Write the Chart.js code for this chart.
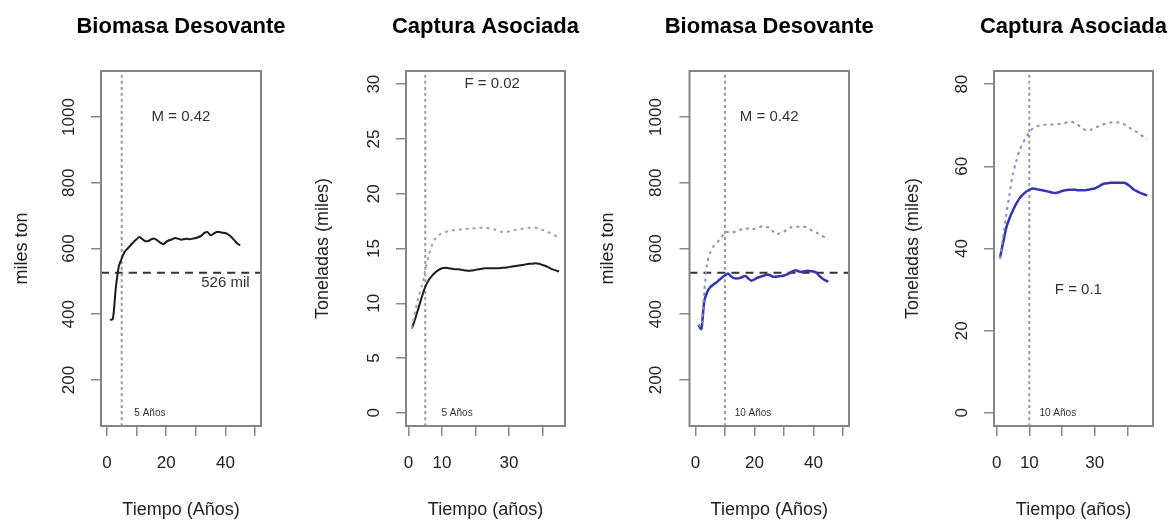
<!DOCTYPE html>
<html>
<head>
<meta charset="utf-8">
<script src="https://cdn.jsdelivr.net/npm/chart.js@4.4.1/dist/chart.umd.min.js"></script>
<style>
  html, body { margin: 0; padding: 0; background: #fff; }
  #wrap { position: relative; width: 1173px; height: 521px; }
  #wrap canvas { position: absolute; left: 0; top: 0; }
</style>
</head>
<body>
<div id="wrap">
  <canvas id="c1" width="1173" height="521"></canvas>
  <canvas id="c2" width="1173" height="521"></canvas>
  <canvas id="c3" width="1173" height="521"></canvas>
  <canvas id="c4" width="1173" height="521"></canvas>
</div>
<script>
const FONT = '"Liberation Sans", Arial, Helvetica, sans-serif';

// Años de proyección
const years = [1, 2, 3, 4, 5, 6, 7, 8, 9, 10, 11, 12, 13, 14, 15, 16, 17, 18, 19, 20,
  21, 22, 23, 24, 25, 26, 27, 28, 29, 30, 31, 32, 33, 34, 35, 36, 37, 38, 39, 40,
  41, 42, 43, 44, 45, 46];

// Panel 1: biomasa desovante, veda de 5 años (miles ton)
const biomasa5 = [383, 385, 480, 545, 570, 590, 600, 610, 620, 628, 635, 628, 622, 623, 628,
  630, 625, 618, 613, 620, 625, 628, 632, 630, 627, 628, 630, 628, 630, 632, 635, 640, 648,
  650, 640, 645, 650, 650, 648, 647, 642, 635, 625, 615, 610];

// Panel 2: captura asociada, veda de 5 años (miles t)
const captura5 = [7.7, 8.6, 9.6, 10.6, 11.5, 12.1, 12.5, 12.8, 13.05, 13.2, 13.25, 13.2, 13.15,
  13.1, 13.1, 13.05, 13.0, 12.95, 13.0, 13.05, 13.1, 13.15, 13.2, 13.2, 13.2, 13.2, 13.2, 13.25,
  13.25, 13.3, 13.35, 13.4, 13.45, 13.5, 13.55, 13.6, 13.6, 13.65, 13.6, 13.5, 13.4, 13.25,
  13.1, 13.0, 12.9];
const captura5Ref = [7.7, 9.3, 10.6, 11.6, 13.0, 14.3, 15.3, 15.9, 16.2, 16.4, 16.5, 16.6, 16.65,
  16.7, 16.7, 16.75, 16.8, 16.8, 16.85, 16.85, 16.9, 16.9, 16.9, 16.85, 16.8, 16.7, 16.6, 16.5,
  16.5, 16.55, 16.6, 16.7, 16.75, 16.8, 16.85, 16.9, 16.9, 16.9, 16.8, 16.7, 16.6, 16.45, 16.3,
  16.15, 16.05];

// Panel 3: biomasa desovante, veda de 10 años
const biomasa10 = [368, 355, 440, 468, 482, 490, 496, 504, 512, 518, 524, 516, 510, 509, 510,
  514, 516, 508, 502, 506, 511, 514, 517, 520, 520, 515, 514, 515, 516, 518, 521, 526, 531,
  534, 530, 529, 531, 532, 531, 530, 526, 516, 509, 503, 499];
const biomasa10Ref = [368, 362, 470, 555, 588, 605, 615, 625, 635, 650, 650, 647, 650, 654, 656,
  660, 662, 660, 657, 660, 664, 666, 668, 665, 664, 655, 645, 644, 648, 651, 658, 664, 665,
  666, 666, 667, 666, 662, 657, 652, 648, 643, 638, 633, 628];

// Panel 4: captura asociada, veda de 10 años
const captura10 = [37.6, 41.5, 45.2, 47.5, 49.3, 50.9, 52.2, 53.1, 53.8, 54.3, 54.6, 54.5, 54.3,
  54.2, 54.0, 53.8, 53.6, 53.5, 53.7, 54.0, 54.2, 54.3, 54.3, 54.3, 54.2, 54.2, 54.2, 54.3,
  54.5, 54.6, 55.0, 55.5, 55.8, 55.9, 56.0, 56.0, 56.0, 56.0, 56.0, 55.6, 55.0, 54.3, 53.9,
  53.5, 53.2, 52.9];
const captura10Ref = [37.6, 43.0, 48.5, 53.5, 58.2, 61.2, 63.9, 65.6, 67.0, 68.2, 69.2, 69.6, 69.9,
  70.0, 70.1, 70.1, 70.2, 70.2, 70.3, 70.4, 70.6, 70.8, 70.8, 70.5, 70.0, 69.4, 68.9, 68.7,
  69.0, 69.4, 69.7, 70.0, 70.3, 70.5, 70.7, 70.8, 70.7, 70.5, 70.2, 69.8, 69.2, 68.7, 68.3,
  67.7, 67.1, 66.6];

const biomasaTicks = [200, 400, 600, 800, 1000];
const captura5Ticks = [0, 5, 10, 15, 20, 25, 30];
const captura10Ticks = [0, 20, 40, 60, 80];
const xTicksBio = [0, 10, 20, 30, 40, 50];
const xLabelsBio = [0, 20, 40];
const xTicksCap = [0, 10, 20, 30, 40];
const xLabelsCap = [0, 10, 30];
const refBiomasa = 526;

function xy(vals) {
  return vals.map((v, i) => ({ x: years[i], y: v }));
}

// Dibuja caja, etiquetas del eje y giradas, textos y título al estilo de R
const rStyle = {
  id: 'rStyle',
  afterDraw(chart, args, opts) {
    const { ctx, chartArea: a, scales: { x, y } } = chart;
    ctx.save();
    ctx.strokeStyle = '#858585';
    ctx.lineWidth = 2;
    ctx.strokeRect(a.left, a.top, a.right - a.left, a.bottom - a.top);

    ctx.fillStyle = '#222';
    ctx.font = '17px ' + FONT;
    ctx.textAlign = 'center';
    ctx.textBaseline = 'alphabetic';
    y.ticks.forEach(t => {
      ctx.save();
      ctx.translate(a.left - opts.yGap, y.getPixelForValue(t.value));
      ctx.rotate(-Math.PI / 2);
      ctx.fillText(String(t.value), 0, 0);
      ctx.restore();
    });

    ctx.textBaseline = 'middle';
    opts.notes.forEach(n => {
      ctx.font = n.size + 'px ' + FONT;
      ctx.fillStyle = '#333';
      ctx.fillText(n.text, x.getPixelForValue(n.x), y.getPixelForValue(n.y));
    });

    ctx.textBaseline = 'alphabetic';
    ctx.font = 'bold 22px ' + FONT;
    ctx.fillStyle = '#000';
    ctx.fillText(opts.title, (a.left + a.right) / 2, 33);
    ctx.restore();
  }
};

function line(data, color, width, dash) {
  return {
    data: data,
    borderColor: color,
    borderWidth: width,
    borderDash: dash || [],
    pointRadius: 0,
    fill: false,
    tension: 0.25
  };
}

function makePanel(id, p) {
  const sets = p.series.map(s => line(xy(s.values), s.color, s.width, s.dash));
  sets.push(line([{ x: p.veda, y: p.yMin }, { x: p.veda, y: p.yMax }], '#9a9a9a', 2, [3, 3]));
  if (p.ref) {
    sets.push(line([{ x: p.xMin, y: p.ref }, { x: p.xMax, y: p.ref }], '#333', 2, [8, 6]));
  }
  new Chart(document.getElementById(id), {
    type: 'line',
    data: { datasets: sets },
    plugins: [rStyle],
    options: {
      responsive: false,
      animation: false,
      layout: { padding: { left: p.padLeft, right: 1173 - p.boxRight, top: 71, bottom: 0 } },
      plugins: {
        legend: { display: false },
        tooltip: { enabled: false },
        rStyle: { title: p.title, yGap: p.yGap, notes: p.notes }
      },
      scales: {
        x: {
          type: 'linear',
          min: p.xMin,
          max: p.xMax,
          afterBuildTicks: s => { s.ticks = p.xTicks.map(v => ({ value: v })); },
          afterFit: s => { s.height = 95; },
          ticks: {
            autoSkip: false, maxRotation: 0, minRotation: 0, padding: 17,
            color: '#222', font: { family: FONT, size: 17 },
            callback: v => p.xLabels.includes(v) ? String(v) : ''
          },
          grid: { drawOnChartArea: false, drawTicks: true, tickLength: 10, color: '#888', lineWidth: 1.5 },
          border: { display: false },
          title: { display: true, text: p.xTitle, color: '#222', padding: 0, font: { family: FONT, size: 18 } }
        },
        y: {
          type: 'linear',
          min: p.yMin,
          max: p.yMax,
          afterBuildTicks: s => { s.ticks = p.yTicks.map(v => ({ value: v })); },
          afterFit: s => { s.width = p.boxLeft - p.padLeft; },
          ticks: { display: false },
          grid: { drawOnChartArea: false, drawTicks: true, tickLength: 10, color: '#888', lineWidth: 1.5 },
          border: { display: false },
          title: { display: true, text: p.yTitle, color: '#222', padding: 0, font: { family: FONT, size: 18 } }
        }
      }
    }
  });
}

makePanel('c1', {
  title: 'Biomasa Desovante', xTitle: 'Tiempo (Años)', yTitle: 'miles ton',
  padLeft: 10.9, boxLeft: 101, boxRight: 261, yGap: 27,
  xMin: -2, xMax: 52, yMin: 60, yMax: 1140,
  xTicks: xTicksBio, xLabels: xLabelsBio, yTicks: biomasaTicks,
  veda: 5, ref: refBiomasa,
  series: [{ values: biomasa5, color: '#1c1c1c', width: 2 }],
  notes: [
    { x: 25, y: 1000, text: 'M = 0.42', size: 15 },
    { x: 40, y: 495, text: '526 mil', size: 15 },
    { x: 14.5, y: 100, text: '5 Años', size: 10 }
  ]
});

makePanel('c2', {
  title: 'Captura Asociada', xTitle: 'Tiempo (años)', yTitle: 'Toneladas (miles)',
  padLeft: 312.2, boxLeft: 406, boxRight: 565, yGap: 27,
  xMin: -0.76, xMax: 46.76, yMin: -1.2, yMax: 31.2,
  xTicks: xTicksCap, xLabels: xLabelsCap, yTicks: captura5Ticks,
  veda: 5,
  series: [
    { values: captura5Ref, color: '#a0a0a0', width: 2, dash: [3, 4] },
    { values: captura5, color: '#1c1c1c', width: 2 }
  ],
  notes: [
    { x: 25, y: 30, text: 'F = 0.02', size: 15 },
    { x: 14.5, y: 0, text: '5 Años', size: 10 }
  ]
});

makePanel('c3', {
  title: 'Biomasa Desovante', xTitle: 'Tiempo (Años)', yTitle: 'miles ton',
  padLeft: 597.2, boxLeft: 689.5, boxRight: 849, yGap: 29,
  xMin: -2, xMax: 52, yMin: 60, yMax: 1140,
  xTicks: xTicksBio, xLabels: xLabelsBio, yTicks: biomasaTicks,
  veda: 10, ref: refBiomasa,
  series: [
    { values: biomasa10Ref, color: '#8a8ad0', width: 2, dash: [3, 4] },
    { values: biomasa10, color: '#3535b0', width: 2.5 }
  ],
  notes: [
    { x: 25, y: 1000, text: 'M = 0.42', size: 15 },
    { x: 19.5, y: 100, text: '10 Años', size: 10 }
  ]
});

makePanel('c4', {
  title: 'Captura Asociada', xTitle: 'Tiempo (años)', yTitle: 'Toneladas (miles)',
  padLeft: 902.2, boxLeft: 994, boxRight: 1153, yGap: 27,
  xMin: -0.8, xMax: 47.8, yMin: -3.2, yMax: 83.2,
  xTicks: xTicksCap, xLabels: xLabelsCap, yTicks: captura10Ticks,
  veda: 10,
  series: [
    { values: captura10Ref, color: '#8a8ad0', width: 2, dash: [3, 4] },
    { values: captura10, color: '#3535b0', width: 2.5 }
  ],
  notes: [
    { x: 25, y: 30, text: 'F = 0.1', size: 15 },
    { x: 18.7, y: 0, text: '10 Años', size: 10 }
  ]
});
</script>
</body>
</html>
